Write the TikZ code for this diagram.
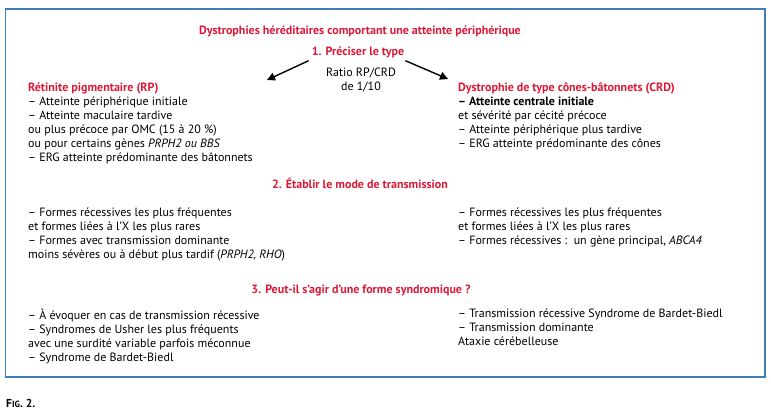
\documentclass[tikz,border=0pt]{standalone}
\usepackage{fontspec}
\setmainfont{PT Sans}
\usetikzlibrary{arrows.meta}
\definecolor{figred}{RGB}{220,25,55}
\definecolor{figblue}{RGB}{65,125,185}
\begin{document}
\begin{tikzpicture}[x=1pt,y=-1pt,
  txt/.style={inner sep=0pt, font=\fontsize{12}{14}\selectfont, align=left},
  head/.style={inner sep=0pt, text=figred, font=\fontsize{12}{14}\selectfont\bfseries},
  arr/.style={-{Triangle[length=8pt,width=8pt]}, line width=1.4pt}]
\useasboundingbox (0,0) rectangle (771,410);
\draw[figblue, line width=1.5pt] (5.5,9) rectangle (765,377);

\node[head, anchor=base] (title) at (360,34) {Dystrophies héréditaires comportant une atteinte périphérique};
\node[head, anchor=base] (s1) at (358,55) {1. Préciser le type};
\node[txt, anchor=north, align=center] (ratio) at (361,67.5) {Ratio RP/CRD\\de 1/10};

\node[txt, anchor=north west] (rp) at (28,82.3) {{\color{figred}\bfseries Rétinite pigmentaire (RP)}\\
– Atteinte périphérique initiale\\
– Atteinte maculaire tardive\\
ou plus précoce par OMC (15 à 20 \%)\\
ou pour certains gènes \textit{PRPH2 ou BBS}\\
– ERG atteinte prédominante des bâtonnets};

\node[txt, anchor=north west] (crd) at (458,82.3) {{\color{figred}\bfseries Dystrophie de type cônes-bâtonnets (CRD)}\\
{\bfseries – Atteinte centrale initiale}\\
et sévérité par cécité précoce\\
– Atteinte périphérique plus tardive\\
– ERG atteinte prédominante des cônes};

\coordinate (la) at (267,80);
\coordinate (ra) at (448,79);
\draw[arr] ([shift={(-3,3)}]s1.south west) -- (la);
\draw[arr] ([shift={(1,3)}]s1.south east) -- (ra);

\node[head, anchor=base] (s2) at (360,188) {2. Établir le mode de transmission};
\node[txt, anchor=north west] (t2l) at (28,207.5) {– Formes récessives les plus fréquentes\\
et formes liées à l’X les plus rares\\
– Formes avec transmission dominante\\
moins sévères ou à début plus tardif (\textit{PRPH2, RHO})};
\node[txt, anchor=north west] (t2r) at (458,207.5) {– Formes récessives les plus fréquentes\\
et formes liées à l’X les plus rares\\
– Formes récessives :\ \ un gène principal, \textit{ABCA4}};

\node[head, anchor=base] (s3) at (361,293) {3. Peut-il s’agir d’une forme syndromique ?};
\node[txt, anchor=north west] (t3l) at (28,308.5) {– À évoquer en cas de transmission récessive\\
– Syndromes de Usher les plus fréquents\\
avec une surdité variable parfois méconnue\\
– Syndrome de Bardet-Biedl};
\node[txt, anchor=north west] (t3r) at (458,308.5) {– Transmission récessive Syndrome de Bardet-Biedl\\
– Transmission dominante\\
Ataxie cérébelleuse};

\node[inner sep=0pt, anchor=base west] (fig) at (6,407) {\fontsize{11.5}{13}\selectfont\bfseries F{\fontsize{9}{10}\selectfont IG}. 2.};
\end{tikzpicture}
\end{document}
